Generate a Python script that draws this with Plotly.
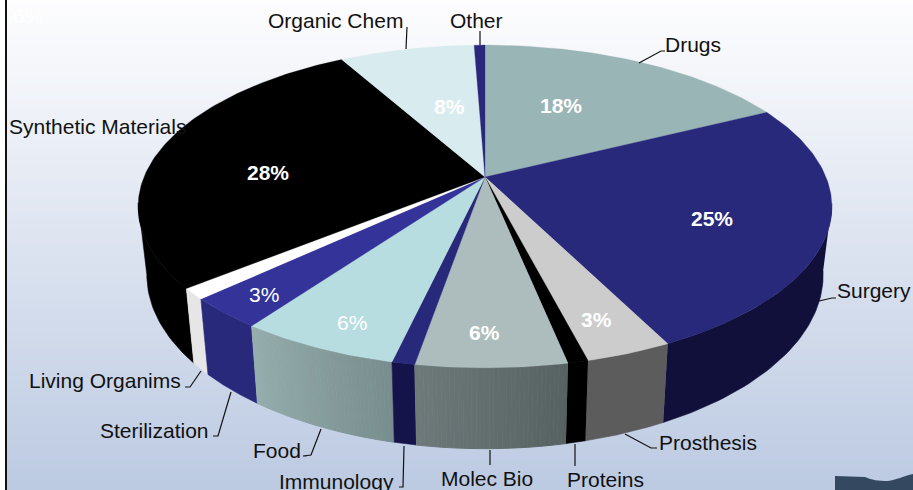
import math
import plotly.graph_objects as go

categories = ["Drugs", "Surgery", "Prosthesis", "Proteins", "Molec Bio", "Immunology",
              "Food", "Sterilization", "Living Organims", "Synthetic Materials", "Organic Chem", "Other"]
values = [17.6, 25.0, 3.4, 0.8, 5.9, 0.9, 6.3, 3.1, 1.1, 27.8, 7.5, 0.6]
percent_labels = ["18%", "25%", "3%", "", "6%", "", "6%", "3%", "", "28%", "8%", ""]

top_colors = ["#99b5b5", "#29297c", "#cccccc", "#000000", "#adbcbc", "#29297c",
              "#b8dde0", "#333399", "#ffffff", "#000000", "#d8ebee", "#29297c"]
wall_left = ["#99b5b5", "#10103a", "#5c5c5c", "#000000", "#6e7a7a", "#14144a",
             "#96adad", "#29297c", "#e6e6e6", "#000000", "#d8ebee", "#29297c"]
wall_right = ["#99b5b5", "#10103a", "#5c5c5c", "#000000", "#566161", "#14144a",
              "#788e8e", "#29297c", "#e6e6e6", "#000000", "#d8ebee", "#29297c"]

CX, CY, RX, KY, P, H, SHRINK = 485.0, 177.0, 341.0, 156.0, 0.1827, 66.0, 0.975


def rim(theta):
    f = 1 / (1 + P * math.cos(theta))
    return CX + RX * math.sin(theta) * f, CY - KY * math.cos(theta) * f, f


def base(theta):
    x, y, f = rim(theta)
    return CX + (x - CX) * SHRINK, y + H * f


def hex_mix(a, b, t):
    ca = [int(a[i:i + 2], 16) for i in (1, 3, 5)]
    cb = [int(b[i:i + 2], 16) for i in (1, 3, 5)]
    return "#%02x%02x%02x" % tuple(round(p + (q - p) * t) for p, q in zip(ca, cb))


def poly(xs, ys, color, width=0.6):
    return go.Scatter(x=xs, y=ys, mode="lines", fill="toself", fillcolor=color,
                      line=dict(color=color, width=width), hoverinfo="skip", showlegend=False)


fig = go.Figure()
total = sum(values)
bounds = [0.0]
for v in values:
    bounds.append(bounds[-1] + v / total * 2 * math.pi)

VISIBLE = -0.15  # walls are only seen where the rim lies in front of its widest point
wall_traces = []
for i, v in enumerate(values):
    a0, a1 = bounds[i], bounds[i + 1]
    if wall_left[i] != wall_right[i]:
        n = max(2, int(v * 6))
        for k in range(n):
            t0 = a0 + (a1 - a0) * k / n
            t1 = a0 + (a1 - a0) * (k + 1) / n
            ts = [t0, t1]
            xs = [rim(t)[0] for t in ts] + [base(t)[0] for t in ts[::-1]]
            ys = [rim(t)[1] for t in ts] + [base(t)[1] for t in ts[::-1]]
            frac = (k + 0.5) / n
            wall_traces.append((-math.cos((t0 + t1) / 2),
                                poly(xs, ys, hex_mix(wall_right[i], wall_left[i], frac), 1.0)))
    else:
        ts = [a0 + (a1 - a0) * k / 80 for k in range(81)]
        ts = [t for t in ts if math.cos(t) < VISIBLE]
        if len(ts) < 2:
            continue
        xs = [rim(t)[0] for t in ts] + [base(t)[0] for t in ts[::-1]]
        ys = [rim(t)[1] for t in ts] + [base(t)[1] for t in ts[::-1]]
        wall_traces.append((-math.cos((a0 + a1) / 2), poly(xs, ys, wall_left[i])))
for _, tr in sorted(wall_traces, key=lambda p: p[0]):
    fig.add_trace(tr)

for i, v in enumerate(values):
    a0, a1 = bounds[i], bounds[i + 1]
    n = max(4, int(v * 4))
    ts = [a0 + (a1 - a0) * k / n for k in range(n + 1)]
    fig.add_trace(poly([CX] + [rim(t)[0] for t in ts] + [CX],
                       [CY] + [rim(t)[1] for t in ts] + [CY], top_colors[i], 0.3))

leaders = [
    ([639, 661, 665], [63, 51, 51]),
    ([819, 832, 836], [301, 298, 298]),
    ([625, 651, 657], [434, 448, 448]),
    ([575, 575], [444, 466]),
    ([490, 490], [450, 465]),
    ([404, 403, 399], [446, 487, 487]),
    ([321, 311, 303, 307], [429, 455, 456, 456]),
    ([231, 218, 213], [392, 436, 436]),
    ([201, 190, 185], [371, 387, 387]),
    ([407, 406], [27, 49]),
    ([480, 480], [31, 45]),
]
for xs, ys in leaders:
    fig.add_trace(go.Scatter(x=xs, y=ys, mode="lines", line=dict(color="#111111", width=1.2),
                             hoverinfo="skip", showlegend=False))

annots = []
label_pos = {
    "Drugs": (665, 44, "left"), "Surgery": (837, 290, "left"), "Prosthesis": (659, 442, "left"),
    "Proteins": (567, 479, "left"), "Molec Bio": (441, 478, "left"), "Immunology": (279, 481, "left"),
    "Food": (253, 450, "left"), "Sterilization": (100, 430, "left"), "Living Organims": (29, 380, "left"),
    "Synthetic Materials": (9, 126, "left"), "Organic Chem": (268, 20, "left"), "Other": (450, 20, "left"),
}
for name in categories:
    x, y, anchor = label_pos[name]
    annots.append(dict(x=x, y=y, text=name, showarrow=False, xanchor=anchor, yanchor="middle",
                       font=dict(family="Liberation Sans", size=21, color="#111111"),
                       borderpad=0, borderwidth=0))

pct_pos = [(561, 105, True), (712, 218, True), (596, 319, True), None, (484, 332, True), None,
           (352, 322, False), (264, 294, False), None, (268, 172, True), (449, 106, True), None]
for lab, pos in zip(percent_labels, pct_pos):
    if pos:
        annots.append(dict(x=pos[0], y=pos[1], text=f"<b>{lab}</b>" if pos[2] else lab, showarrow=False,
                           font=dict(family="Liberation Sans", size=21, color="#ffffff")))
annots.append(dict(x=28, y=15, text="6%", showarrow=False,
                   font=dict(family="Liberation Sans", size=21, color="#ffffff")))

shapes = []
top_bg, bot_bg = "#fdfdfe", "#bccae2"
STEPS = 98
for s in range(STEPS):
    t = s / (STEPS - 1)
    shapes.append(dict(type="rect", xref="x", yref="y", x0=0, x1=913,
                       y0=490 * s / STEPS, y1=490 * (s + 1) / STEPS + 0.5,
                       fillcolor=hex_mix(top_bg, bot_bg, t), line_width=0, layer="below"))
shapes.append(dict(type="rect", xref="x", yref="y", x0=0, x1=5, y0=0, y1=490,
                   fillcolor="#ffffff", line_width=0, layer="below"))
shapes.append(dict(type="rect", xref="x", yref="y", x0=5, x1=7, y0=0, y1=490,
                   fillcolor="#111111", line_width=0, layer="below"))
shapes.append(dict(type="path", xref="x", yref="y", layer="below", line_width=0, fillcolor="#34495f",
                   path="M 835 476 L 865 477 C 872 480 878 481 888 481 C 896 480 904 476 913 474 L 913 490 L 835 490 Z"))

fig.update_layout(width=913, height=490, margin=dict(l=0, r=0, t=0, b=0),
                  paper_bgcolor="#ffffff", plot_bgcolor="rgba(0,0,0,0)",
                  xaxis=dict(range=[0, 913], visible=False, fixedrange=True),
                  yaxis=dict(range=[490, 0], visible=False, fixedrange=True),
                  shapes=shapes, annotations=annots, showlegend=False)
fig.write_html("out.html", config={"displayModeBar": False},
               post_script="document.body.style.margin='0';document.body.style.overflow='hidden';")
